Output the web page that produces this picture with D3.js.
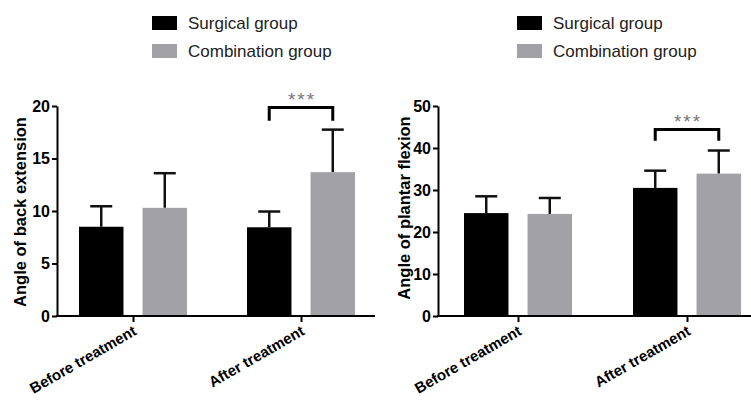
<!DOCTYPE html>
<html><head><meta charset="utf-8">
<script src="https://cdn.jsdelivr.net/npm/d3@7"></script>
<style>
body{margin:0;background:#fff;}
svg{display:block;font-family:"Liberation Sans",Arial,sans-serif;}
</style></head>
<body><svg id="c" width="751" height="400"></svg>
<script>
const categories = ["Before treatment", "After treatment"];
const series = ["Surgical group", "Combination group"];
const colors = ["#000000", "#a2a2a6"];

// Panel 1: Angle of back extension
const backMean = [[8.5, 10.3], [8.45, 13.7]];
const backErr  = [[1.95, 3.3], [1.5, 4.05]];
const backTicks = [0, 5, 10, 15, 20];

// Panel 2: Angle of plantar flexion
const plantarMean = [[24.5, 24.3], [30.5, 33.9]];
const plantarErr  = [[4.0, 3.8], [4.1, 5.5]];
const plantarTicks = [0, 10, 20, 30, 40, 50];

const sig = "***";

const svg = d3.select("#c");

function panel(cfg) {
  const g = svg.append("g");
  const y = d3.scaleLinear().domain([0, cfg.ymax]).range([316, 106]);
  const x = d3.scalePoint().domain(categories).range(cfg.centers);
  const sub = d3.scaleBand().domain(series).range([-54, 54]).paddingInner(0.3);

  // legend
  series.forEach((s, i) => {
    g.append("rect").attr("x", cfg.legX).attr("y", 16 + i * 28).attr("width", 25).attr("height", 14)
      .attr("fill", colors[i]);
    g.append("text").attr("x", cfg.legX + 36).attr("y", 29 + i * 28).attr("font-size", 17)
      .attr("fill", "#222").text(s);
  });

  // bars
  categories.forEach((c, ci) => {
    series.forEach((s, si) => {
      const v = cfg.mean[ci][si], e = cfg.err[ci][si];
      const bx = x(c) + sub(s);
      const cx = bx + sub.bandwidth() / 2;
      g.append("line").attr("x1", cx).attr("x2", cx).attr("y1", y(v)).attr("y2", y(v + e))
        .attr("stroke", "#111").attr("stroke-width", 2.5);
      g.append("line").attr("x1", cx - 11).attr("x2", cx + 11).attr("y1", y(v + e)).attr("y2", y(v + e))
        .attr("stroke", "#111").attr("stroke-width", 2.5);
      g.append("rect").attr("x", bx).attr("width", sub.bandwidth()).attr("y", y(v)).attr("height", y(0) - y(v))
        .attr("fill", colors[si]);
    });
  });

  // y axis
  const ya = g.append("g").attr("transform", `translate(${cfg.axisX},0)`)
    .call(d3.axisLeft(y).tickValues(cfg.ticks).tickSize(5).tickSizeOuter(0).tickPadding(2));
  ya.select(".domain").attr("stroke", "#000").attr("stroke-width", 2);
  ya.selectAll(".tick line").attr("stroke", "#000").attr("stroke-width", 2);
  ya.selectAll(".tick text").attr("font-size", 16).attr("font-weight", "bold").attr("fill", "#000")
    .attr("font-family", '"Liberation Sans",Arial,sans-serif');

  // x axis
  g.append("line").attr("x1", cfg.axisX - 1).attr("x2", cfg.axisEnd).attr("y1", y(0)).attr("y2", y(0))
    .attr("stroke", "#000").attr("stroke-width", 2);
  const xa = g.append("g").attr("transform", `translate(0,${y(0)})`)
    .call(d3.axisBottom(x).tickSize(6).tickSizeOuter(0));
  xa.select(".domain").remove();
  xa.selectAll(".tick line").attr("stroke", "#000").attr("stroke-width", 2);
  xa.selectAll(".tick text").attr("font-size", 15).attr("font-weight", "bold").attr("fill", "#000")
    .attr("font-family", '"Liberation Sans",Arial,sans-serif')
    .attr("text-anchor", "end").attr("dy", null).attr("y", null)
    .attr("transform", "translate(4,18) rotate(-30)");

  // axis title
  g.append("text").attr("transform", `translate(${cfg.titleX},${cfg.titleY}) rotate(-90)`)
    .attr("text-anchor", "middle").attr("font-size", 16.5).attr("font-weight", "bold").attr("fill", "#000")
    .text(cfg.title);

  // significance bracket
  const c = categories[1];
  const x1 = x(c) + sub(series[0]) + sub.bandwidth() / 2;
  const x2 = x(c) + sub(series[1]) + sub.bandwidth() / 2;
  const top = y(cfg.brTop), bot = y(cfg.brBot);
  g.append("path").attr("d", `M${x1},${bot}V${top}H${x2}V${bot}`).attr("fill", "none")
    .attr("stroke", "#000").attr("stroke-width", 3);
  g.append("text").attr("x", (x1 + x2) / 2 + 1).attr("y", top - 2).attr("text-anchor", "middle")
    .attr("font-size", 19).attr("fill", "#777").attr("letter-spacing", 2).text(sig);
}

panel({ ymax: 20, ticks: backTicks, mean: backMean, err: backErr, centers: [133, 301],
  axisX: 57, axisEnd: 375, legX: 152, titleX: 26, titleY: 212, title: "Angle of back extension",
  brTop: 19.85, brBot: 18.6 });
panel({ ymax: 50, ticks: plantarTicks, mean: plantarMean, err: plantarErr, centers: [518, 687],
  axisX: 438, axisEnd: 751, legX: 517, titleX: 410, titleY: 208, title: "Angle of plantar flexion",
  brTop: 44.4, brBot: 41.7 });
</script></body></html>
